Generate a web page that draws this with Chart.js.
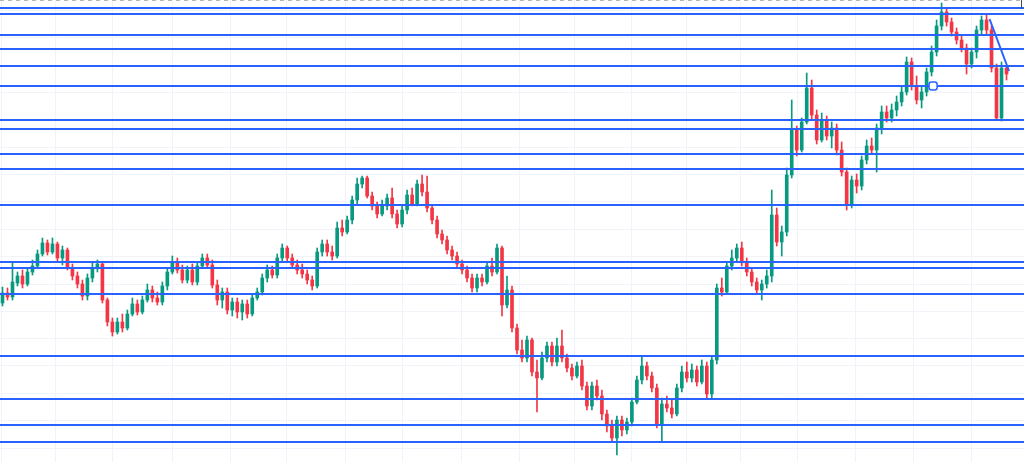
<!DOCTYPE html>
<html>
<head>
<meta charset="utf-8">
<script src="https://cdn.jsdelivr.net/npm/chart.js@4.4.1/dist/chart.umd.min.js"></script>
<style>
html,body{margin:0;padding:0;background:#fff}
#area{width:1024px;height:462px}
</style>
</head>
<body>
<div id="area"><canvas id="graficoCandles" width="1024" height="462"></canvas></div>
<script>

let abertura=[
159,169,165,179,186,178,190,196,208,219,
210,218,204,212,194,186,178,166,184,194,
198,162,140,130,140,134,148,158,150,162,
172,164,160,176,190,200,192,182,192,180,
196,204,197,177,162,170,152,160,150,158,
148,164,170,184,192,187,204,214,204,197,
192,188,182,176,210,218,210,206,234,230,
242,262,278,284,266,256,248,256,264,248,
238,252,267,258,278,270,254,242,228,222,
212,206,198,192,184,174,184,180,196,190,
214,157,172,134,112,104,122,90,84,104,
116,100,116,104,94,86,96,76,56,76,
66,48,36,24,42,32,40,60,82,96,
86,74,38,58,54,48,74,90,84,92,
80,96,68,102,174,170,196,204,214,200,
190,180,172,178,186,247,220,230,287,332,
312,340,374,347,322,342,326,334,312,290,
257,282,276,302,316,312,334,350,344,352,
360,370,400,376,362,370,390,410,436,450,
440,430,422,414,398,410,432,442,432,394,
344,394
]

let maxima=[
175,174,200,190,192,194,202,212,224,222,
224,220,216,214,198,190,182,188,200,202,
200,164,144,144,148,152,164,162,166,178,
176,170,180,194,206,204,197,196,198,200,
208,208,202,182,174,174,164,164,162,162,
168,174,188,197,196,208,218,216,208,202,
198,192,186,214,222,222,216,240,242,246,
266,284,286,286,270,260,262,268,274,252,
256,272,274,282,287,286,257,246,232,226,
216,210,202,196,188,188,188,200,204,218,
216,186,176,138,122,126,124,102,110,120,
120,124,132,108,98,100,102,80,80,82,
72,52,42,46,46,44,64,86,106,100,
90,78,64,66,62,78,96,100,98,96,
102,100,106,178,184,200,212,218,220,204,
194,184,182,192,272,254,236,294,362,336,
344,389,382,352,349,346,340,338,320,294,
286,288,306,322,324,338,356,356,358,366,
376,405,404,386,376,394,416,442,459,454,
444,434,427,418,414,436,446,447,436,398,
400,396
]

let minima=[
156,162,162,176,174,176,187,194,206,207,
208,200,197,192,182,174,162,162,180,190,
159,136,126,128,130,132,146,147,148,160,
160,157,157,172,188,189,179,179,177,177,
194,194,174,157,154,148,146,144,142,144,
146,162,167,180,184,184,200,200,194,188,
184,178,172,174,206,206,202,204,226,228,
238,258,274,264,252,244,246,252,244,234,
235,248,256,256,266,250,238,224,218,208,
202,194,188,180,170,170,176,178,186,188,
146,154,130,108,100,100,86,50,82,100,
96,96,100,90,82,84,72,52,52,62,
42,30,20,7,26,28,36,58,78,82,
70,34,20,50,44,46,70,80,80,76,
78,64,64,98,166,168,192,200,196,186,
176,168,162,174,180,216,206,226,284,306,
310,338,342,318,320,322,314,307,286,252,
254,269,272,298,308,290,328,340,340,346,
356,367,372,358,354,366,386,406,432,436,
426,418,410,388,394,404,428,428,390,342,
341,382
]

let fechamento=[
169,165,180,186,178,190,196,208,219,210,
218,204,212,194,186,178,166,184,194,198,
162,140,130,140,134,148,158,150,162,172,
164,160,176,190,200,192,182,192,180,196,
204,197,177,162,170,152,160,150,158,148,
164,170,184,192,187,204,214,204,197,192,
188,182,176,210,218,210,206,234,230,242,
262,278,284,266,256,248,256,264,248,238,
252,267,258,278,270,254,242,228,222,212,
206,198,192,184,174,184,180,196,190,214,
157,172,134,112,104,122,90,84,104,116,
100,116,104,94,86,96,76,56,76,66,
48,36,24,42,32,40,60,82,96,86,
74,38,58,54,48,74,90,84,92,80,
96,68,102,174,170,196,204,214,200,190,
180,172,178,186,247,220,230,287,332,312,
340,374,347,322,342,326,334,312,290,257,
282,276,302,316,312,334,350,344,352,360,
370,400,376,362,370,390,410,436,450,440,
430,422,414,398,410,432,442,432,394,344,
394,388
]

// linhas horizontais desenhadas no grafico
let niveis=[453.7,447.7,427,413,396.3,376,342.5,333,308.5,293.3,256.5,200,194.2,167.7,106,63,37,20]

// separacao dos dias (indice do candle)
let quebrasDia=[5.3,16.1,27.9,40.1,51,62.8,74.6,85.6,98,109,120.2,131.8,142.2,153.4,165,176.7,187.9,200.1]

let gradePreco=[14,41.3,68.7,96,123.3,150.7,178,205.3,232.7,260,287.3,314.7,342,369.3,396.7,424,451.3]

let tendencia=[{x:197.6,y:443},{x:201.5,y:391}]
let marcador=[{x:186.3,y:376}]

let corAlta='#089981'
let corBaixa='#f23645'
let corLinha='#2962ff'

let indices=abertura.map((v,i)=>i)
let cores=indices.map(i=>fechamento[i]>=abertura[i]?corAlta:corBaixa)

let desenhos={
id:'desenhos',
afterDatasetDraw(chart,args){

if(chart.data.datasets[args.index].label!=='corpos')return

let ctx=chart.ctx
let y=chart.scales.y
let area=chart.chartArea

ctx.save()
ctx.strokeStyle=corLinha
ctx.lineWidth=2

niveis.forEach(v=>{
let py=Math.round(y.getPixelForValue(v))
ctx.beginPath()
ctx.moveTo(area.left,py)
ctx.lineTo(area.right,py)
ctx.stroke()
})

ctx.restore()

},
afterDraw(chart){

let ctx=chart.ctx

ctx.save()
ctx.strokeStyle='#b2b5be'
ctx.lineWidth=1
ctx.setLineDash([4,4])
ctx.beginPath()
ctx.moveTo(chart.chartArea.left,0.5)
ctx.lineTo(chart.chartArea.right,0.5)
ctx.stroke()
ctx.setLineDash([])
ctx.strokeStyle='#4a4a4a'
ctx.beginPath()
ctx.moveTo(1021.5,0)
ctx.lineTo(1021.5,9)
ctx.stroke()
ctx.restore()

}
}

let grafico=new Chart(document.getElementById('graficoCandles'),{
type:'bar',
data:{
datasets:[
{
type:'line',
label:'marcador',
data:marcador,
showLine:false,
pointStyle:'rectRounded',
pointRadius:4.7,
pointBackgroundColor:'#fff',
pointBorderColor:corLinha,
pointBorderWidth:1.5,
order:0
},
{
type:'line',
label:'tendencia',
data:tendencia,
borderColor:corLinha,
borderWidth:2,
pointRadius:0,
order:1
},
{
label:'corpos',
data:indices.map(i=>({x:i,y:[abertura[i],fechamento[i]]})),
backgroundColor:cores,
barThickness:3,
minBarLength:1,
grouped:false,
order:2
},
{
label:'pavios',
data:indices.map(i=>({x:i,y:[minima[i],maxima[i]]})),
backgroundColor:cores,
barThickness:1,
grouped:false,
order:3
}
]
},
options:{
responsive:false,
animation:false,
devicePixelRatio:1,
layout:{padding:0,autoPadding:false},
plugins:{
legend:{display:false},
tooltip:{enabled:false}
},
scales:{
x:{
type:'linear',
min:-0.5,
max:204.5,
offset:false,
afterBuildTicks:s=>{s.ticks=quebrasDia.map(v=>({value:v}))},
ticks:{display:false},
grid:{color:'#f0f3f7',drawTicks:false},
border:{display:false}
},
y:{
type:'linear',
min:0,
max:462,
afterBuildTicks:s=>{s.ticks=gradePreco.map(v=>({value:v}))},
ticks:{display:false},
grid:{color:'#f0f3f7',drawTicks:false},
border:{display:false}
}
}
},
plugins:[desenhos]
})

</script>
</body>
</html>
